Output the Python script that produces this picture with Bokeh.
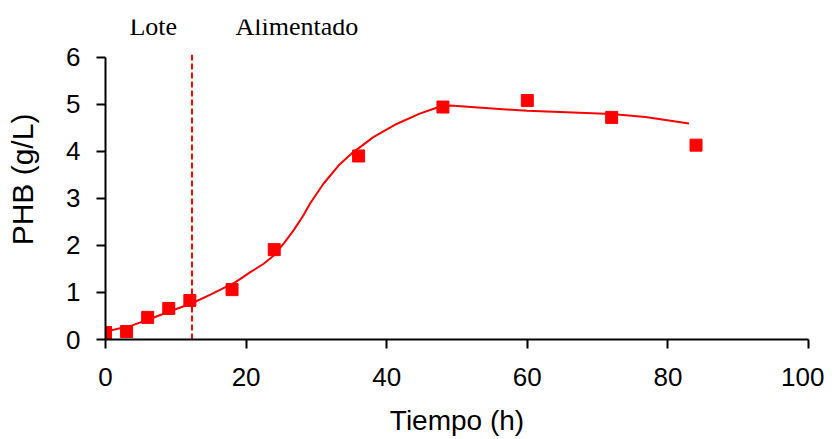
from bokeh.plotting import figure
from bokeh.models import Range1d
from bokeh.core.properties import value
from bokeh.embed import file_html
from bokeh.resources import INLINE

# Experimental data
time_exp = [0, 3, 6, 9, 12, 18, 24, 36, 48, 60, 72, 84]
phb_exp = [0.15, 0.17, 0.47, 0.66, 0.83, 1.06, 1.91, 3.90, 4.94, 5.08, 4.72, 4.13]

# Model curve
time_model = [0, 0.7, 3.8, 6.4, 9.2, 12.3, 15, 18.5, 20.6, 22.5, 23.9, 25.4, 26.8,
              28.2, 29.1, 31.0, 33.3, 35.2, 36.5, 38.1, 41.4, 44.7, 47, 49, 60, 72, 76.8, 83]
phb_model = [0.16, 0.19, 0.30, 0.44, 0.60, 0.77, 0.96, 1.22, 1.43, 1.61, 1.78, 2.05, 2.33,
             2.65, 2.89, 3.31, 3.72, 3.98, 4.12, 4.30, 4.58, 4.80, 4.92, 4.97, 4.86, 4.79, 4.73, 4.59]

# Phase switch (batch -> fed-batch)
switch_time = [12.3]
switch_y0 = [0]
switch_y1 = [6.05]
phase_labels = ["Lote", "Alimentado"]
phase_label_x = [6.8, 18.5]
phase_label_y = [6.65, 6.65]
phase_label_align = ["center", "left"]

x_ticks = [0, 20, 40, 60, 80, 100]
y_ticks = [0, 1, 2, 3, 4, 5, 6]

p = figure(width=824, height=431, output_backend="svg", toolbar_location=None,
           x_range=Range1d(0, 100), y_range=Range1d(0, 6.8),
           frame_width=703, frame_height=320,
           min_border_left=105, min_border_top=19, min_border_right=16, min_border_bottom=92)

p.outline_line_color = None
p.xgrid.visible = False
p.ygrid.visible = False
p.background_fill_color = "white"
p.border_fill_color = "white"

for ax in (p.xaxis[0], p.yaxis[0]):
    ax.axis_line_width = 2
    ax.axis_line_color = "black"
    ax.major_tick_line_width = 2
    ax.major_tick_line_color = "black"
    ax.major_tick_out = 9
    ax.major_tick_in = 0
    ax.minor_tick_line_color = None
    ax.major_label_text_font = "Liberation Sans"
    ax.major_label_text_font_size = "26px"
    ax.major_label_text_color = "black"
    ax.axis_label_text_font = "Liberation Sans"
    ax.axis_label_text_font_style = "normal"
    ax.axis_label_text_color = "black"

p.yaxis.bounds = (0, 6)
p.xaxis.ticker = x_ticks
p.yaxis.ticker = y_ticks
p.xaxis.axis_label = "Tiempo (h)"
p.yaxis.axis_label = "PHB (g/L)"
p.xaxis.axis_label_text_font_size = "28px"
p.yaxis.axis_label_text_font_size = "30px"
p.xaxis.major_label_standoff = 19
p.yaxis.major_label_standoff = 16
p.xaxis.axis_label_standoff = 16
p.yaxis.axis_label_standoff = 24

p.segment(x0=switch_time, y0=switch_y0, x1=switch_time, y1=switch_y1,
          line_color="#ff0000", line_width=2, line_dash="6 3")

p.line(time_model, phb_model, line_color="#ff0000", line_width=2)
p.scatter(time_exp, phb_exp, marker="square", size=12, fill_color="#ff0000", line_color="#ff0000")

p.text(x=phase_label_x, y=phase_label_y, text=phase_labels, text_align=phase_label_align,
       text_baseline="alphabetic", text_font=value("Liberation Serif"),
       text_font_size="26px", text_color="black")

open("out.html", "w").write(file_html(p, INLINE))
